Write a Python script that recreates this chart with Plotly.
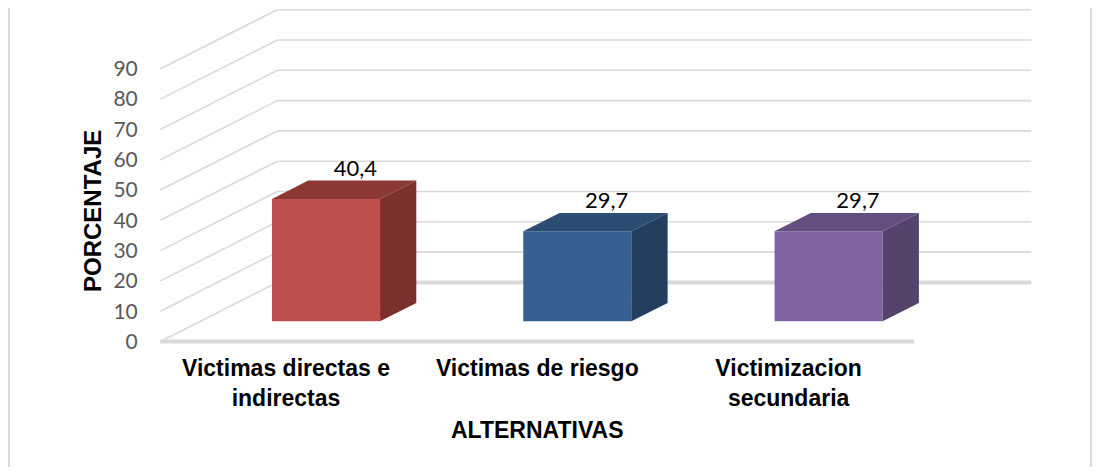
import plotly.graph_objects as go

# Data
categorias = ["Victimas directas e<br>indirectas", "Victimas de riesgo", "Victimizacion<br>secundaria"]
porcentajes = [40.4, 29.7, 29.7]
etiquetas = ["40,4", "29,7", "29,7"]
ticks_y = [0, 10, 20, 30, 40, 50, 60, 70, 80, 90]

# Colours per bar: front, top, side
col_frente = ["#C0504D", "#366092", "#8064A2"]
col_techo = ["#8E3836", "#2C4C74", "#634E80"]
col_lado = ["#7C302E", "#243E5F", "#54436C"]

OFF = 8  # page body margin: screen px = figure px + OFF
W, H = 1101 - 2 * OFF, 475 - 2 * OFF   # keep the page free of scrolling

# plot area in screen pixels
P_LEFT, P_RIGHT, P_TOP, P_BOT = 150, 1040, 8, 345
ML = P_LEFT - OFF
MT = P_TOP - OFF
plot_w = P_RIGHT - P_LEFT
plot_h = P_BOT - P_TOP
MR = W - ML - plot_w
MB = H - MT - plot_h

# Pixel scales (screen px, used only to set axis ranges)
px_cat = 251.3      # px per category
cat0_px = 286       # x of first category on the front plane
px_val = 3.03       # px per percent unit
zero_px = 341.5     # y of 0 on the front plane

x_rng = [(P_LEFT - cat0_px) / px_cat, (P_RIGHT - cat0_px) / px_cat]
y_rng = [(zero_px - P_BOT) / px_val, (zero_px - P_TOP) / px_val]


def paper_x(px):
    return (px - P_LEFT) / plot_w


def paper_y(py):
    return (P_BOT - py) / plot_h


# 3D depth vector (in data units) from front plane to back wall
DX, DY = 0.4655, 19.5
f0, f1 = 0.342, 0.652      # bar front / back depth fractions
ancho = 0.43               # bar front face width

xs = list(range(len(categorias)))
x_left, x_right = -0.5, len(categorias) - 0.5

fig = go.Figure()

# back wall grid lines + left diagonal lines
grid_col = "#D9D9D9"
shapes = []
for v in ticks_y:
    w = 4 if v == 0 else 1.6
    shapes.append(dict(type="line", xref="x", yref="y", layer="below",
                       x0=x_left, y0=v, x1=x_left + DX, y1=v + DY,
                       line=dict(color=grid_col, width=1.6)))
    shapes.append(dict(type="line", xref="x", yref="y", layer="below",
                       x0=x_left + DX, y0=v + DY, x1=x_right + DX, y1=v + DY,
                       line=dict(color=grid_col, width=w)))
# front floor edge
shapes.append(dict(type="line", xref="x", yref="y", layer="below",
                   x0=x_left, y0=0, x1=x_right, y1=0,
                   line=dict(color=grid_col, width=4)))
# outer frame lines
for px in (9, OFF + W - 2):
    shapes.append(dict(type="line", xref="paper", yref="paper", layer="below",
                       x0=paper_x(px), x1=paper_x(px), y0=paper_y(480), y1=paper_y(0),
                       line=dict(color="#D9D9D9", width=2)))

# front faces
base = f0 * DY
centros = [x + f0 * DX for x in xs]
fig.add_trace(go.Bar(
    x=centros, y=porcentajes, base=[base] * len(xs), width=ancho,
    marker=dict(color=col_frente, line=dict(width=0)),
    hoverinfo="skip", showlegend=False,
))

# top and side faces
ddx, ddy = (f1 - f0) * DX, (f1 - f0) * DY
for i, v in enumerate(porcentajes):
    xl = centros[i] - ancho / 2
    xr = centros[i] + ancho / 2
    top = base + v
    fig.add_trace(go.Scatter(
        x=[xl, xr, xr + ddx, xl + ddx, xl],
        y=[top, top, top + ddy, top + ddy, top],
        fill="toself", fillcolor=col_techo[i], mode="lines",
        line=dict(width=0, color=col_techo[i]), hoverinfo="skip", showlegend=False))
    fig.add_trace(go.Scatter(
        x=[xr, xr, xr + ddx, xr + ddx, xr],
        y=[base, top, top + ddy, base + ddy, base],
        fill="toself", fillcolor=col_lado[i], mode="lines",
        line=dict(width=0, color=col_lado[i]), hoverinfo="skip", showlegend=False))

# data labels
fig.add_trace(go.Scatter(
    x=[c + 0.117 for c in centros],
    y=[v + 16.2 for v in porcentajes],
    mode="text", text=etiquetas, textposition="middle center",
    textfont=dict(family="Lato", size=22, color="#000000"),
    hoverinfo="skip", showlegend=False, cliponaxis=False,
))

fig.update_layout(
    width=W, height=H,
    margin=dict(l=ML, r=MR, t=MT, b=MB, pad=0),
    paper_bgcolor="white", plot_bgcolor="white",
    shapes=shapes,
    xaxis=dict(range=x_rng, tickvals=xs, ticktext=categorias,
               showgrid=False, zeroline=False, showline=False,
               ticks="outside", ticklen=2, tickcolor="rgba(0,0,0,0)",
               tickfont=dict(family="Liberation Sans", size=23, color="#000000", weight="bold"),
               tickangle=0, fixedrange=True),
    yaxis=dict(range=y_rng, tickvals=ticks_y,
               showgrid=False, zeroline=False, showline=False,
               ticks="outside", ticklen=7, tickcolor="rgba(0,0,0,0)",
               tickfont=dict(family="Lato", size=21, color="#595959"),
               fixedrange=True),
    annotations=[
        dict(text="<b>ALTERNATIVAS</b>", xref="x", yref="paper",
             x=1, y=paper_y(430), showarrow=False,
             xanchor="center", yanchor="middle",
             font=dict(family="Liberation Sans", size=23, color="#000000")),
        dict(text="<b>PORCENTAJE</b>", xref="paper", yref="paper",
             x=paper_x(92), y=paper_y(211),
             showarrow=False, textangle=-90,
             xanchor="center", yanchor="middle",
             font=dict(family="Liberation Sans", size=24, color="#000000")),
    ],
)

fig.write_html("out.html")
